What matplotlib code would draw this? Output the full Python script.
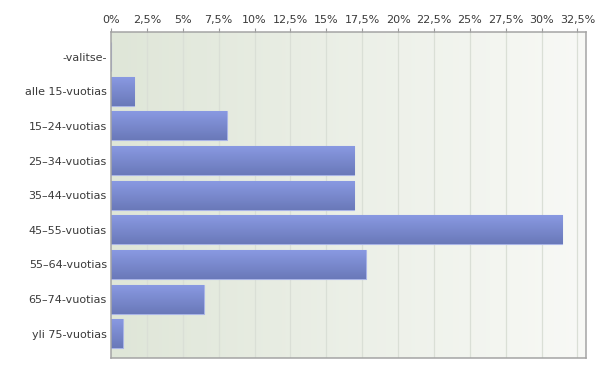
import matplotlib
matplotlib.use("Agg")
import matplotlib.pyplot as plt
import numpy as np
from matplotlib.colors import LinearSegmentedColormap

categories = ["-valitse-", "alle 15-vuotias", "15\u201324-vuotias", "25\u201334-vuotias",
              "35\u201344-vuotias", "45\u201355-vuotias", "55\u201364-vuotias",
              "65\u201374-vuotias", "yli 75-vuotias"]
values = [0.0, 1.61, 8.06, 16.94, 16.94, 31.45, 17.74, 6.45, 0.81]
tick_values = [0, 2.5, 5, 7.5, 10, 12.5, 15, 17.5, 20, 22.5, 25, 27.5, 30, 32.5]
tick_labels = ["0%", "2,5%", "5%", "7,5%", "10%", "12,5%", "15%", "17,5%", "20%",
               "22,5%", "25%", "27,5%", "30%", "32,5%"]

fig = plt.figure(figsize=(6.0, 3.73), dpi=100)
ax = fig.add_axes([111 / 600, 1 - 358 / 373, (585.5 - 111) / 600, (358 - 32) / 373])

xmax = 33.06
ax.set_xlim(0, xmax)
ax.set_ylim(len(categories) - 0.30, -0.71)

# background gradient (left greenish to right near white)
bg_cmap = LinearSegmentedColormap.from_list("bg", ["#dfe6d8", "#f8f9f6"])
grad = np.linspace(0, 1, 256).reshape(1, -1)
ax.imshow(grad, cmap=bg_cmap, aspect="auto", extent=[0, 1, 0, 1],
          transform=ax.transAxes, zorder=0)

for t in tick_values[1:]:
    ax.axvline(t, color="#dadfd6", lw=0.9, zorder=1)

y = np.arange(len(categories))
bars = ax.barh(y, values, height=0.84, color="#7a8ad0", edgecolor="#a9b4e6",
               linewidth=0.8, zorder=2)

bar_cmap = LinearSegmentedColormap.from_list("bar", ["#8a9ae3", "#6a79b9"])
vgrad = np.linspace(0, 1, 64).reshape(-1, 1)
for b in bars:
    if b.get_width() <= 0:
        continue
    x0, y0 = b.get_x(), b.get_y()
    w, h = b.get_width(), b.get_height()
    im = ax.imshow(vgrad, cmap=bar_cmap, aspect="auto",
                   extent=[x0, x0 + w, y0 + h, y0], zorder=2.5)
    im.set_clip_path(b)

ax.set_xlim(0, xmax)
ax.set_ylim(len(categories) - 0.30, -0.71)

ax.xaxis.tick_top()
ax.set_xticks(tick_values)
ax.set_xticklabels(tick_labels)
ax.set_yticks(y)
ax.set_yticklabels(categories)
ax.tick_params(axis="x", length=3, color="#999999", labelsize=8, labelcolor="#3a3a3a", pad=2)
ax.tick_params(axis="y", length=0, labelsize=8, labelcolor="#3a3a3a", pad=3)
for s in ax.spines.values():
    s.set_color("#a4a4a4")
    s.set_linewidth(1.1)

fig.savefig("out.png", dpi=100)
